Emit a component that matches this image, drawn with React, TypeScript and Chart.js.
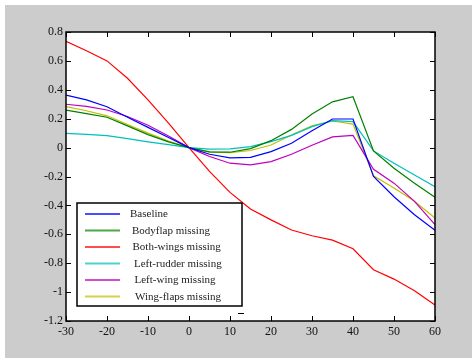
import React, { useEffect, useRef } from "react";
import { Chart, registerables } from "chart.js";

Chart.register(...registerables);

const angles = [-30, -25, -20, -15, -10, -5, 0, 5, 10, 15, 20, 25, 30, 35, 40, 45, 50, 55, 60];

const baseline = [0.363, 0.33, 0.283, 0.21, 0.14, 0.07, 0, -0.046, -0.071, -0.067, -0.028, 0.03, 0.117, 0.198, 0.198, -0.2, -0.34, -0.465, -0.572];
const bodyflap = [0.26, 0.235, 0.21, 0.15, 0.09, 0.04, 0, -0.03, -0.032, -0.007, 0.048, 0.126, 0.232, 0.317, 0.352, -0.023, -0.143, -0.246, -0.343];
const bothWings = [0.736, 0.67, 0.6, 0.48, 0.33, 0.17, 0, -0.165, -0.31, -0.425, -0.5, -0.57, -0.61, -0.64, -0.7, -0.845, -0.91, -0.99, -1.09];
const leftRudder = [0.099, 0.092, 0.083, 0.062, 0.04, 0.02, 0, -0.01, -0.009, 0.007, 0.041, 0.085, 0.145, 0.186, 0.18, -0.023, -0.108, -0.19, -0.27];
const leftWing = [0.3, 0.285, 0.26, 0.215, 0.155, 0.08, 0, -0.062, -0.108, -0.12, -0.097, -0.046, 0.016, 0.074, 0.085, -0.15, -0.246, -0.372, -0.533];
const wingFlaps = [0.283, 0.255, 0.22, 0.16, 0.1, 0.045, 0, -0.032, -0.035, -0.02, 0.018, 0.087, 0.15, 0.184, 0.163, -0.195, -0.28, -0.372, -0.487];

const seriesLabels = ["Baseline", "Bodyflap missing", "Both-wings missing", "Left-rudder missing", "Left-wing missing", "Wing-flaps missing"];
const seriesValues = [baseline, bodyflap, bothWings, leftRudder, leftWing, wingFlaps];
const seriesColors = ["#0000ff", "#008000", "#ff0000", "#00bfbf", "#bf00bf", "#bfbf00"];

const X_MIN = -30, X_MAX = 60, X_STEP = 10;
const Y_MIN = -1.2, Y_MAX = 0.8, Y_STEP = 0.2;

const FONT = "'Liberation Serif', 'DejaVu Serif', serif";

export default function App() {
  const ref = useRef<HTMLCanvasElement | null>(null);

  useEffect(() => {
    document.body.style.margin = "0";
    const canvas = ref.current!;
    const bgPlugin = {
      id: "bg",
      beforeDraw(chart: any) {
        const ctx = chart.ctx;
        ctx.save();
        ctx.fillStyle = "#ffffff";
        ctx.fillRect(0, 0, chart.width, chart.height);
        ctx.fillStyle = "#cccccc";
        ctx.fillRect(5, 5, 467, 353);
        const a = chart.chartArea;
        ctx.fillStyle = "#ffffff";
        ctx.fillRect(a.left, a.top, a.right - a.left, a.bottom - a.top);
        ctx.restore();
      },
      afterDraw(chart: any) {
        const ctx = chart.ctx;
        const a = chart.chartArea;
        const xs = chart.scales.x;
        const ys = chart.scales.y;
        ctx.save();
        ctx.strokeStyle = "#000";
        ctx.lineWidth = 1.5;
        ctx.strokeRect(a.left, a.top, a.right - a.left, a.bottom - a.top);
        ctx.lineWidth = 1;
        const tl = 5;
        xs.ticks.forEach((t: any) => {
          const px = Math.round(xs.getPixelForValue(t.value)) + 0.5;
          ctx.beginPath();
          ctx.moveTo(px, a.bottom);
          ctx.lineTo(px, a.bottom - tl);
          ctx.moveTo(px, a.top);
          ctx.lineTo(px, a.top + tl);
          ctx.stroke();
        });
        ys.ticks.forEach((t: any) => {
          const py = Math.round(ys.getPixelForValue(t.value)) + 0.5;
          ctx.beginPath();
          ctx.moveTo(a.left, py);
          ctx.lineTo(a.left + tl, py);
          ctx.moveTo(a.right, py);
          ctx.lineTo(a.right - tl, py);
          ctx.stroke();
        });

        // legend
        const lx = 77, ly = 203, lw = 165, lh = 103;
        ctx.fillStyle = "#fff";
        ctx.fillRect(lx, ly, lw, lh);
        ctx.strokeStyle = "#000";
        ctx.lineWidth = 1.5;
        ctx.strokeRect(lx, ly, lw, lh);
        const rowY = [214, 230.5, 247, 263.5, 280, 296.5];
        const textX = [130, 132, 132.5, 134, 134.5, 135];
        ctx.font = `11px ${FONT}`;
        ctx.textBaseline = "middle";
        ctx.textAlign = "left";
        chart.data.datasets.forEach((ds: any, i: number) => {
          ctx.globalAlpha = 0.7;
          ctx.strokeStyle = ds.borderColor;
          ctx.lineWidth = 2;
          ctx.beginPath();
          ctx.moveTo(85, rowY[i]);
          ctx.lineTo(120, rowY[i]);
          ctx.stroke();
          ctx.globalAlpha = 1;
          ctx.fillStyle = "#222";
          ctx.fillText(ds.label, textX[i], rowY[i] + 0.5);
        });
        // small artifacts
        ctx.strokeStyle = "#000";
        ctx.lineWidth = 1;
        ctx.beginPath();
        ctx.moveTo(238, 313.5);
        ctx.lineTo(244, 313.5);
        ctx.stroke();
        ctx.restore();
      },
    };

    const chart = new Chart(canvas, {
      type: "line",
      data: {
        datasets: seriesLabels.map((label, i) => ({
          label,
          data: angles.map((x, j) => ({ x, y: seriesValues[i][j] })),
          borderColor: seriesColors[i],
          backgroundColor: seriesColors[i],
          borderWidth: 1.2,
          pointRadius: 0,
          tension: 0,
          fill: false,
        })),
      },
      options: {
        animation: false,
        responsive: false,
        devicePixelRatio: 1,
        layout: { padding: { left: 0, right: 41, top: 32, bottom: 0 } },
        plugins: { legend: { display: false }, tooltip: { enabled: false } },
        scales: {
          x: {
            type: "linear",
            min: X_MIN,
            max: X_MAX,
            grid: { display: false },
            border: { display: false },
            ticks: {
              stepSize: X_STEP,
              color: "#111",
              font: { family: FONT, size: 12 },
              padding: -4,
              maxRotation: 0,
              callback: (v: any) => String(Math.round(Number(v))),
            },
            afterFit: (s: any) => { s.height = 39; },
          },
          y: {
            type: "linear",
            min: Y_MIN,
            max: Y_MAX,
            grid: { display: false },
            border: { display: false },
            ticks: {
              stepSize: Y_STEP,
              color: "#111",
              font: { family: FONT, size: 12 },
              padding: -5,
              callback: (v: any) => String(Number(Number(v).toFixed(1))),
            },
            afterFit: (s: any) => { s.width = 66; },
          },
        },
      },
      plugins: [bgPlugin],
    } as any);
    return () => chart.destroy();
  }, []);

  return (
    <div style={{ width: 476, height: 360 }}>
      <canvas ref={ref} width={476} height={360} style={{ display: "block" }} />
    </div>
  );
}
